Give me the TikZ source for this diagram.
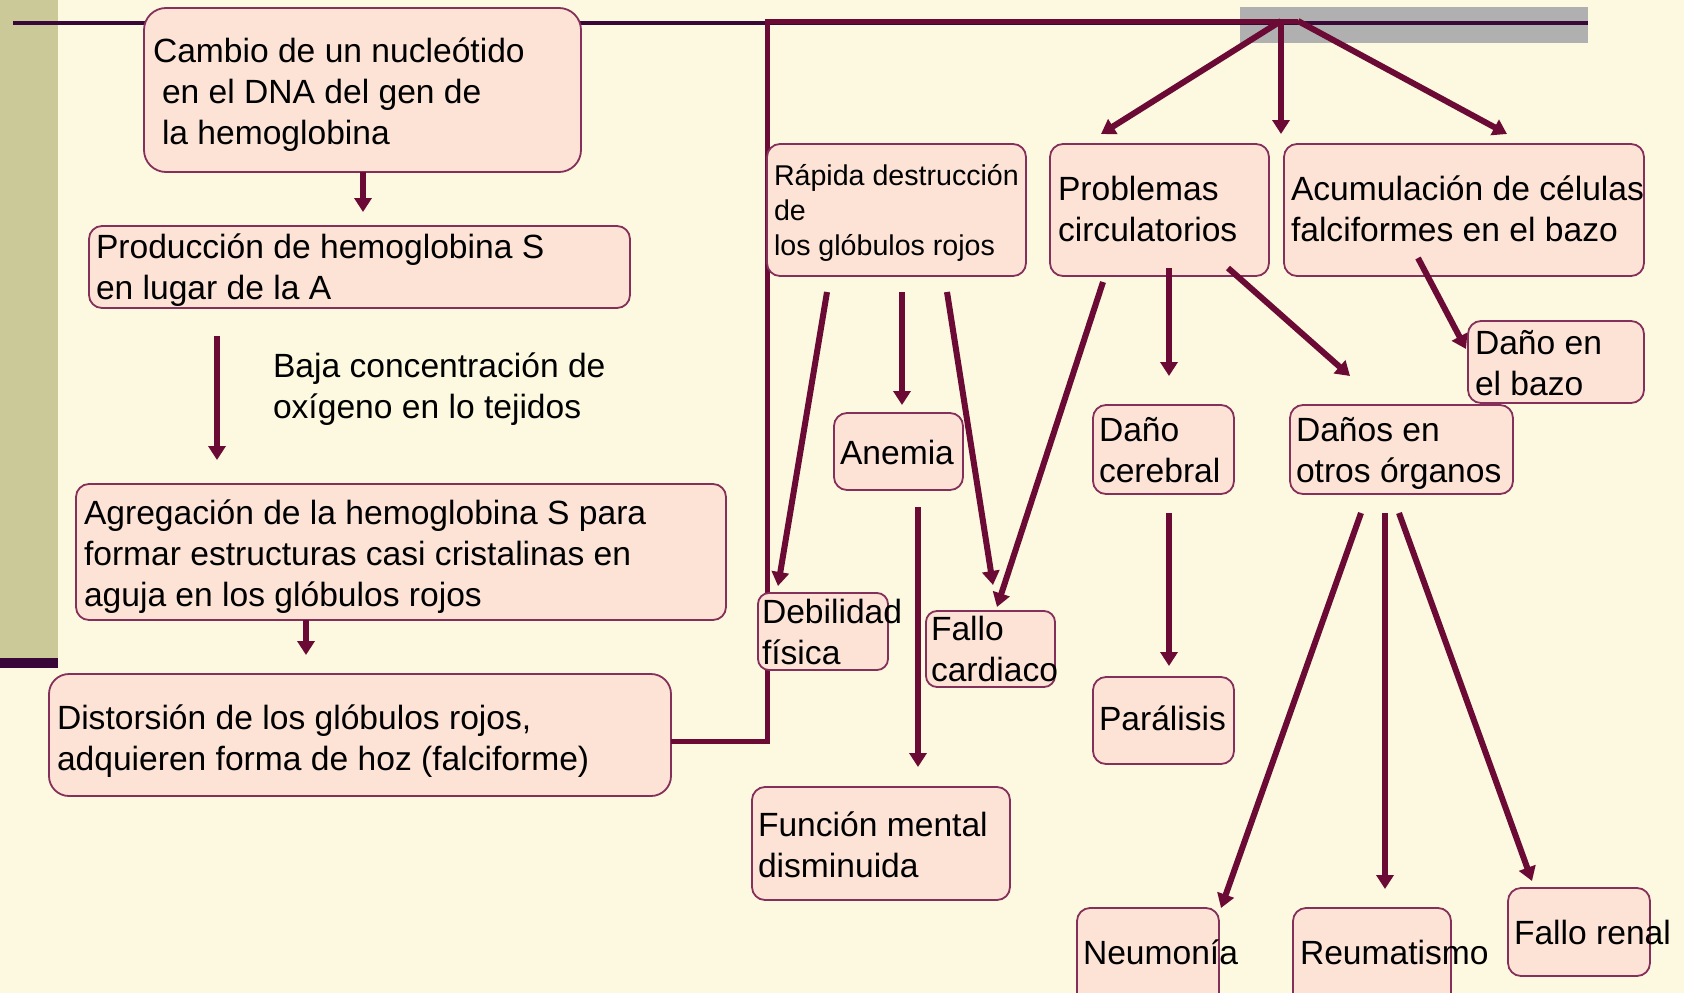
\documentclass[tikz,border=0pt]{standalone}
\usepackage{fontspec}
\setmainfont{Liberation Sans}
\usetikzlibrary{arrows.meta}
\definecolor{bg}{HTML}{FCF9E0}
\definecolor{olive}{HTML}{CCC999}
\definecolor{darkline}{HTML}{3A0838}
\definecolor{greyband}{HTML}{B0B0B0}
\definecolor{boxfill}{HTML}{FCE3D6}
\definecolor{boxline}{HTML}{84305A}
\definecolor{arrc}{HTML}{6A0A35}
\newcommand\fbig{\fontsize{33.6}{41}\selectfont}
\newcommand\fsm{\fontsize{28.6}{35}\selectfont}
\tikzset{
  box/.style={draw=boxline, fill=boxfill, line width=1.8pt, rounded corners=13pt,
    inner sep=0pt, outer sep=0pt, anchor=north west},
  txt/.style={anchor=north west, inner sep=0pt, outer sep=0pt, align=left, font=\fbig, text=black},
  txs/.style={txt, font=\fsm},
  arr/.style={draw=arrc, line width=6pt, -{Triangle[length=14pt,width=17pt]}},
  conn/.style={draw=arrc, line width=5pt, line join=miter},
}
\begin{document}
\begin{tikzpicture}[x=1pt,y=-1pt]
\useasboundingbox (0,0) rectangle (1684,993);
\fill[bg] (0,0) rectangle (1684,993);
\fill[olive] (0,0) rectangle (58,658);
\fill[darkline] (0,658) rectangle (58,668);
\fill[greyband] (1240,7) rectangle (1588,43);
\draw[darkline, line width=4pt] (13,23) -- (1588,23);

\coordinate (hub) at (1281,21);
\coordinate (hubR) at (1298,21);

% boxes
\node[box, rounded corners=22pt, minimum width=437pt, minimum height=164pt] (cambio) at (144,8) {};
\node[box, minimum width=541pt, minimum height=82pt] (prod) at (89,226) {};
\node[box, minimum width=650pt, minimum height=136pt] (agreg) at (76,484) {};
\node[box, rounded corners=20pt, minimum width=622pt, minimum height=122pt] (dist) at (49,674) {};

% long connector from Distorsion to the hub
\draw[conn] ([yshift=-6pt]dist.east) -- ++(96,0) |- (hubR);

\node[box, minimum width=259pt, minimum height=132pt] (rapida) at (767,144) {};
\node[box, minimum width=219pt, minimum height=132pt] (probl) at (1050,144) {};
\node[box, minimum width=360pt, minimum height=132pt] (acum) at (1284,144) {};
\node[box, minimum width=176pt, minimum height=82pt] (bazo) at (1468,321) {};
\node[box, minimum width=129pt, minimum height=77pt] (anemia) at (834,413) {};
\node[box, minimum width=141pt, minimum height=89pt] (cereb) at (1093,405) {};
\node[box, minimum width=223pt, minimum height=89pt] (otros) at (1290,405) {};
\node[box, rounded corners=11pt, minimum width=130pt, minimum height=77pt] (debil) at (758,593) {};
\node[box, rounded corners=11pt, minimum width=129pt, minimum height=76pt] (fallo) at (926,611) {};
\node[box, minimum width=141pt, minimum height=87pt] (paral) at (1093,677) {};
\node[box, minimum width=258pt, minimum height=113pt] (funcion) at (752,787) {};
\node[box, minimum width=142pt, minimum height=110pt] (neum) at (1077,908) {};
\node[box, minimum width=158pt, minimum height=110pt] (reum) at (1293,908) {};
\node[box, minimum width=142pt, minimum height=88pt] (renal) at (1508,888) {};

% arrows
\draw[arr] ([xshift=219pt]cambio.south west) -- ([xshift=274pt,yshift=14pt]prod.north west);
\draw[arr] ([xshift=128pt,yshift=-28pt]prod.south west) -- ([xshift=141pt,yshift=24pt]agreg.north west);
\draw[arr] ([xshift=230pt]agreg.south west) -- ([xshift=257pt,yshift=19pt]dist.north west);

\draw[arr] (hub) -- ([xshift=51pt,yshift=10pt]probl.north west);
\draw[arr] (hub) -- ([xshift=12pt,yshift=10pt]probl.north east);
\draw[arr] (hubR) -- ([xshift=223pt,yshift=10pt]acum.north west);

\draw[arr] ([xshift=60pt,yshift=-16pt]rapida.south west) -- ([xshift=20pt,yshift=7pt]debil.north west);
\draw[arr] ([xshift=135pt,yshift=-16pt]rapida.south west) -- ([xshift=68pt,yshift=8pt]anemia.north west);
\draw[arr] ([xshift=180pt,yshift=-16pt]rapida.south west) -- ([xshift=67pt,yshift=26pt]fallo.north west);
\draw[arr] ([xshift=84pt,yshift=-17pt]anemia.south west) -- ([xshift=166pt,yshift=20pt]funcion.north west);

\draw[arr] ([xshift=53pt,yshift=-6pt]probl.south west) -- ([xshift=71pt,yshift=4pt]fallo.north west);
\draw[arr] ([xshift=119pt,yshift=8pt]probl.south west) -- ([xshift=76pt,yshift=29pt]cereb.north west);
\draw[arr] ([xshift=178pt,yshift=8pt]probl.south west) -- ([xshift=60pt,yshift=29pt]otros.north west);
\draw[arr] ([xshift=134pt,yshift=18pt]acum.south west) -- ([xshift=-2pt,yshift=-28pt]bazo.north west);
\draw[arr] ([xshift=76pt,yshift=-19pt]cereb.south west) -- ([xshift=76pt,yshift=11pt]paral.north west);

\draw[arr] ([xshift=71pt,yshift=-19pt]otros.south west) -- ([xshift=2pt]neum.north east);
\draw[arr] ([xshift=95pt,yshift=-19pt]otros.south west) -- ([xshift=92pt,yshift=19pt]reum.north west);
\draw[arr] ([xshift=109pt,yshift=-19pt]otros.south west) -- ([xshift=24pt,yshift=7pt]renal.north west);

% texts
\node[txt] (cambiot) at (153,33.3) {\strut Cambio de un nucleótido\\\hspace*{9pt}en el DNA del gen de\\\hspace*{9pt}la hemoglobina};
\node[txt] (prodt) at (96,229.3) {\strut Producción de hemoglobina S\\en lugar de la A};
\node[txt] (bajat) at (273,348.3) {\strut Baja concentración de\\oxígeno en lo tejidos};
\node[txt] (agregt) at (84,495.3) {\strut Agregación de la hemoglobina S para\\formar estructuras casi cristalinas en\\aguja en los glóbulos rojos};
\node[txt] (distt) at (57,700.3) {\strut Distorsión de los glóbulos rojos,\\adquieren forma de hoz (falciforme)};
\node[txs] (rapidat) at (774,160.5) {\strut Rápida destrucción\\de\\los glóbulos rojos};
\node[txt] (problt) at (1058,171.3) {\strut Problemas\\circulatorios};
\node[txt] (acumt) at (1291,171.3) {\strut Acumulación de células\\falciformes en el bazo};
\node[txt] (bazot) at (1475,325.3) {\strut Daño en\\el bazo};
\node[txt] (anemiat) at (840,435.3) {\strut Anemia};
\node[txt] (cerebt) at (1099,412.3) {\strut Daño\\cerebral};
\node[txt] (otrost) at (1296,412.3) {\strut Daños en\\otros órganos};
\node[txt] (debilt) at (762,594.3) {\strut Debilidad\\física};
\node[txt] (fallot) at (931,611.3) {\strut Fallo\\cardiaco};
\node[txt] (paralt) at (1099,701.3) {\strut Parálisis};
\node[txt] (funciont) at (758,807.3) {\strut Función mental\\disminuida};
\node[txt] (neumt) at (1083,935.3) {\strut Neumonía};
\node[txt] (reumt) at (1300,935.3) {\strut Reumatismo};
\node[txt] (renalt) at (1514,915.3) {\strut Fallo renal};
\end{tikzpicture}
\end{document}
